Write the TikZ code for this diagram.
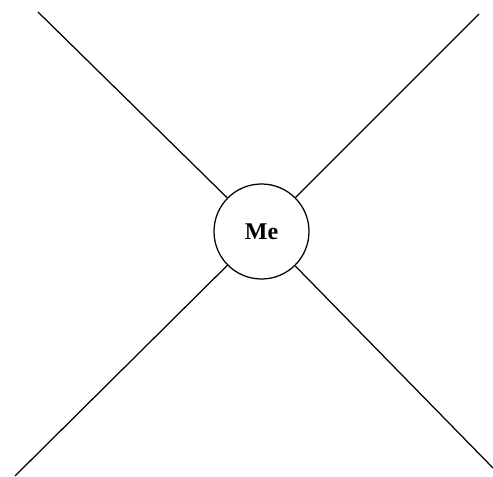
\documentclass[tikz,border=0pt]{standalone}
\usepackage{fontspec}
\setmainfont{Liberation Serif}
\usepackage{tikz}

\begin{document}
\begin{tikzpicture}[
    x=0.4pt, y=-0.4pt,
    every node/.style={font=\fontsize{9.6}{11}\selectfont\bfseries},
    person/.style={circle, draw=black, fill=white,
        line width=0.5pt, minimum size=38pt, inner sep=0pt},
    tie/.style={draw=black, line width=0.5pt}
]
\useasboundingbox (0,0) rectangle (493,477);
\node[person] (me) at (261.5,231.5) {Me};
\coordinate (nw) at (38,12);
\coordinate (ne) at (479,14);
\coordinate (sw) at (15,476);
\coordinate (se) at (493,468);
\draw[tie] (me) -- (nw);
\draw[tie] (me) -- (ne);
\draw[tie] (me) -- (sw);
\draw[tie] (me) -- (se);
\end{tikzpicture}
\end{document}
